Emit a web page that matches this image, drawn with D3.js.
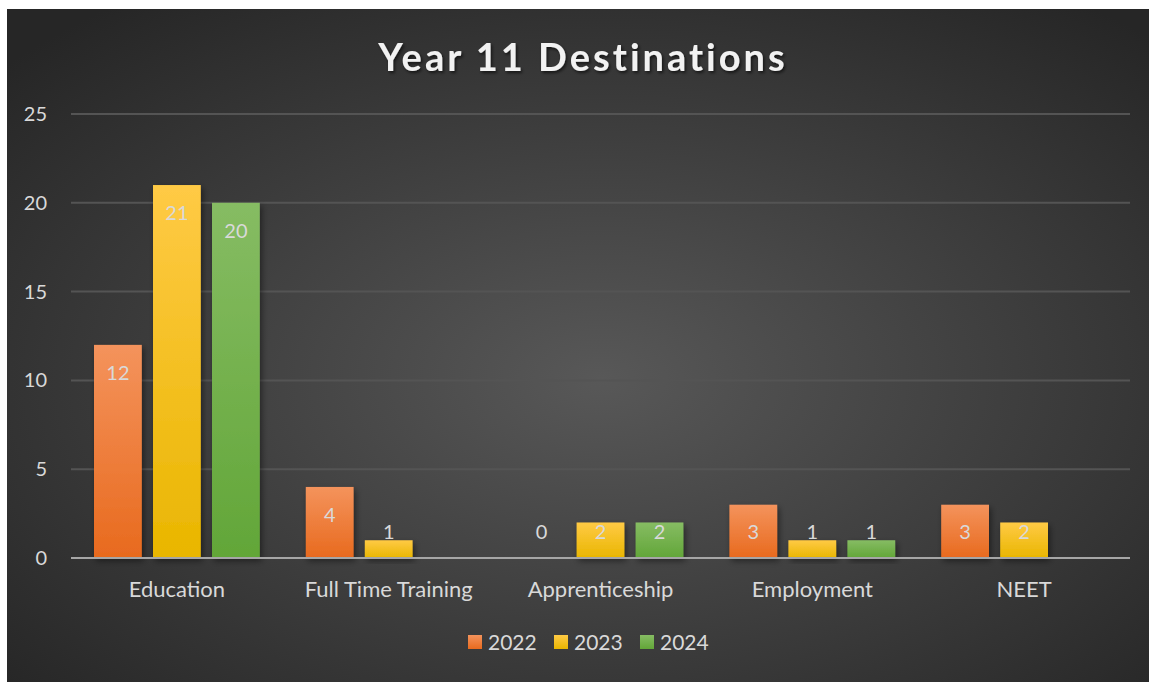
<!DOCTYPE html>
<html>
<head>
<meta charset="utf-8">
<script src="https://cdn.jsdelivr.net/npm/d3@7"></script>
<style>
  body { margin: 0; background: #ffffff; }
  svg { display: block; }
</style>
</head>
<body>
<script>
// chart data
var categories = ["Education", "Full Time Training", "Apprenticeship", "Employment", "NEET"];
var seriesNames = ["2022", "2023", "2024"];
var values2022 = [12, 4, 0, 3, 3];
var values2023 = [21, 1, 2, 1, 2];
var values2024 = [20, null, 2, 1, null];   // null = no bar, no label
var yTicks = [0, 5, 10, 15, 20, 25];

var seriesValues = [values2022, values2023, values2024];
var colTop = ["#f4935c", "#ffca45", "#86bc63"];
var colBot = ["#e86a1e", "#e9b600", "#62a638"];

var W = 1149, H = 682;
var FONT = "Lato, 'Open Sans', sans-serif";
var svg = d3.select("body").append("svg").attr("width", W).attr("height", H)
    .style("font-family", FONT);

var defs = svg.append("defs");
var bg = defs.append("radialGradient").attr("id", "bg")
    .attr("cx", "52%").attr("cy", "55%").attr("r", "70%");
bg.append("stop").attr("offset", "0%").attr("stop-color", "#585858");
bg.append("stop").attr("offset", "100%").attr("stop-color", "#262626");

seriesNames.forEach(function(s, i) {
    var g = defs.append("linearGradient").attr("id", "g" + i)
        .attr("x1", 0).attr("y1", 0).attr("x2", 0).attr("y2", 1);
    g.append("stop").attr("offset", "0%").attr("stop-color", colTop[i]);
    g.append("stop").attr("offset", "100%").attr("stop-color", colBot[i]);
});

var shadow = defs.append("filter").attr("id", "shadow")
    .attr("x", "-20%").attr("y", "-20%").attr("width", "150%").attr("height", "150%");
shadow.append("feDropShadow").attr("dx", 2).attr("dy", 3).attr("stdDeviation", 3)
    .attr("flood-color", "#000").attr("flood-opacity", 0.45);

var tshadow = defs.append("filter").attr("id", "tshadow");
tshadow.append("feDropShadow").attr("dx", 1.5).attr("dy", 2).attr("stdDeviation", 1.5)
    .attr("flood-color", "#000").attr("flood-opacity", 0.6);

// background
svg.append("rect").attr("x", 7).attr("y", 9).attr("width", W - 7).attr("height", H - 9)
    .attr("fill", "url(#bg)");

// title
svg.append("text").attr("x", 583).attr("y", 71).attr("text-anchor", "middle")
    .attr("fill", "#f2f2f2").attr("font-size", 38).attr("font-weight", "bold")
    .attr("letter-spacing", "3px").attr("filter", "url(#tshadow)")
    .text("Year 11 Destinations");

// scales
var plotL = 71, plotR = 1130, plotT = 114, plotB = 558;
var x = d3.scaleBand().domain(categories).range([plotL, plotR]).paddingInner(0).paddingOuter(0);
var y = d3.scaleLinear().domain([0, 25]).range([plotB, plotT]);
var xs = d3.scaleBand().domain(seriesNames).range([23, x.bandwidth() - 23]).paddingInner(0.19);

// gridlines
svg.append("g").selectAll("line").data(yTicks.filter(function(d) { return d > 0; }))
    .join("line")
    .attr("x1", plotL).attr("x2", plotR)
    .attr("y1", function(d) { return y(d); }).attr("y2", function(d) { return y(d); })
    .attr("stroke", "#545454").attr("stroke-width", 2);

// y axis labels
var yAxis = svg.append("g").attr("transform", "translate(" + 47 + ",0)")
    .call(d3.axisLeft(y).tickValues(yTicks).tickSize(0).tickPadding(0));
yAxis.select(".domain").remove();
yAxis.selectAll("text").attr("fill", "#d9d9d9").attr("font-size", 20)
    .attr("font-family", FONT);

// bars
var groups = svg.append("g").selectAll("g").data(categories).join("g")
    .attr("transform", function(d) { return "translate(" + x(d) + ",0)"; });

seriesNames.forEach(function(s, si) {
    groups.each(function(c, ci) {
        var v = seriesValues[si][ci];
        if (v === null) return;
        if (v > 0) {
            d3.select(this).append("rect")
                .attr("x", xs(s)).attr("width", xs.bandwidth())
                .attr("y", y(v)).attr("height", y(0) - y(v))
                .attr("fill", "url(#g" + si + ")").attr("filter", "url(#shadow)");
        }
    });
});

// baseline axis
svg.append("line").attr("x1", plotL).attr("x2", plotR).attr("y1", plotB).attr("y2", plotB)
    .attr("stroke", "#a6a6a6").attr("stroke-width", 2);

// data labels
seriesNames.forEach(function(s, si) {
    groups.each(function(c, ci) {
        var v = seriesValues[si][ci];
        if (v === null) return;
        var cy = Math.min(y(v) + 28, y(0) - 26);
        d3.select(this).append("text")
            .attr("x", xs(s) + xs.bandwidth() / 2).attr("y", cy)
            .attr("dy", "0.35em").attr("text-anchor", "middle")
            .attr("fill", "#d9d9d9").attr("font-size", 20)
            .text(v);
    });
});

// category labels
var xAxis = svg.append("g").attr("transform", "translate(0," + plotB + ")")
    .call(d3.axisBottom(x).tickSize(0).tickPadding(23));
xAxis.select(".domain").remove();
xAxis.selectAll("text").attr("fill", "#d9d9d9").attr("font-size", 22)
    .attr("font-family", FONT);

// legend
var legend = svg.append("g").selectAll("g").data(seriesNames).join("g")
    .attr("transform", function(d, i) { return "translate(" + (468 + i * 86) + ",635)"; });
legend.append("rect").attr("width", 14).attr("height", 14)
    .attr("fill", function(d, i) { return "url(#g" + i + ")"; });
legend.append("text").attr("x", 20).attr("y", 7).attr("dy", "0.36em")
    .attr("fill", "#d9d9d9").attr("font-size", 21)
    .text(function(d) { return d; });
</script>
</body>
</html>
